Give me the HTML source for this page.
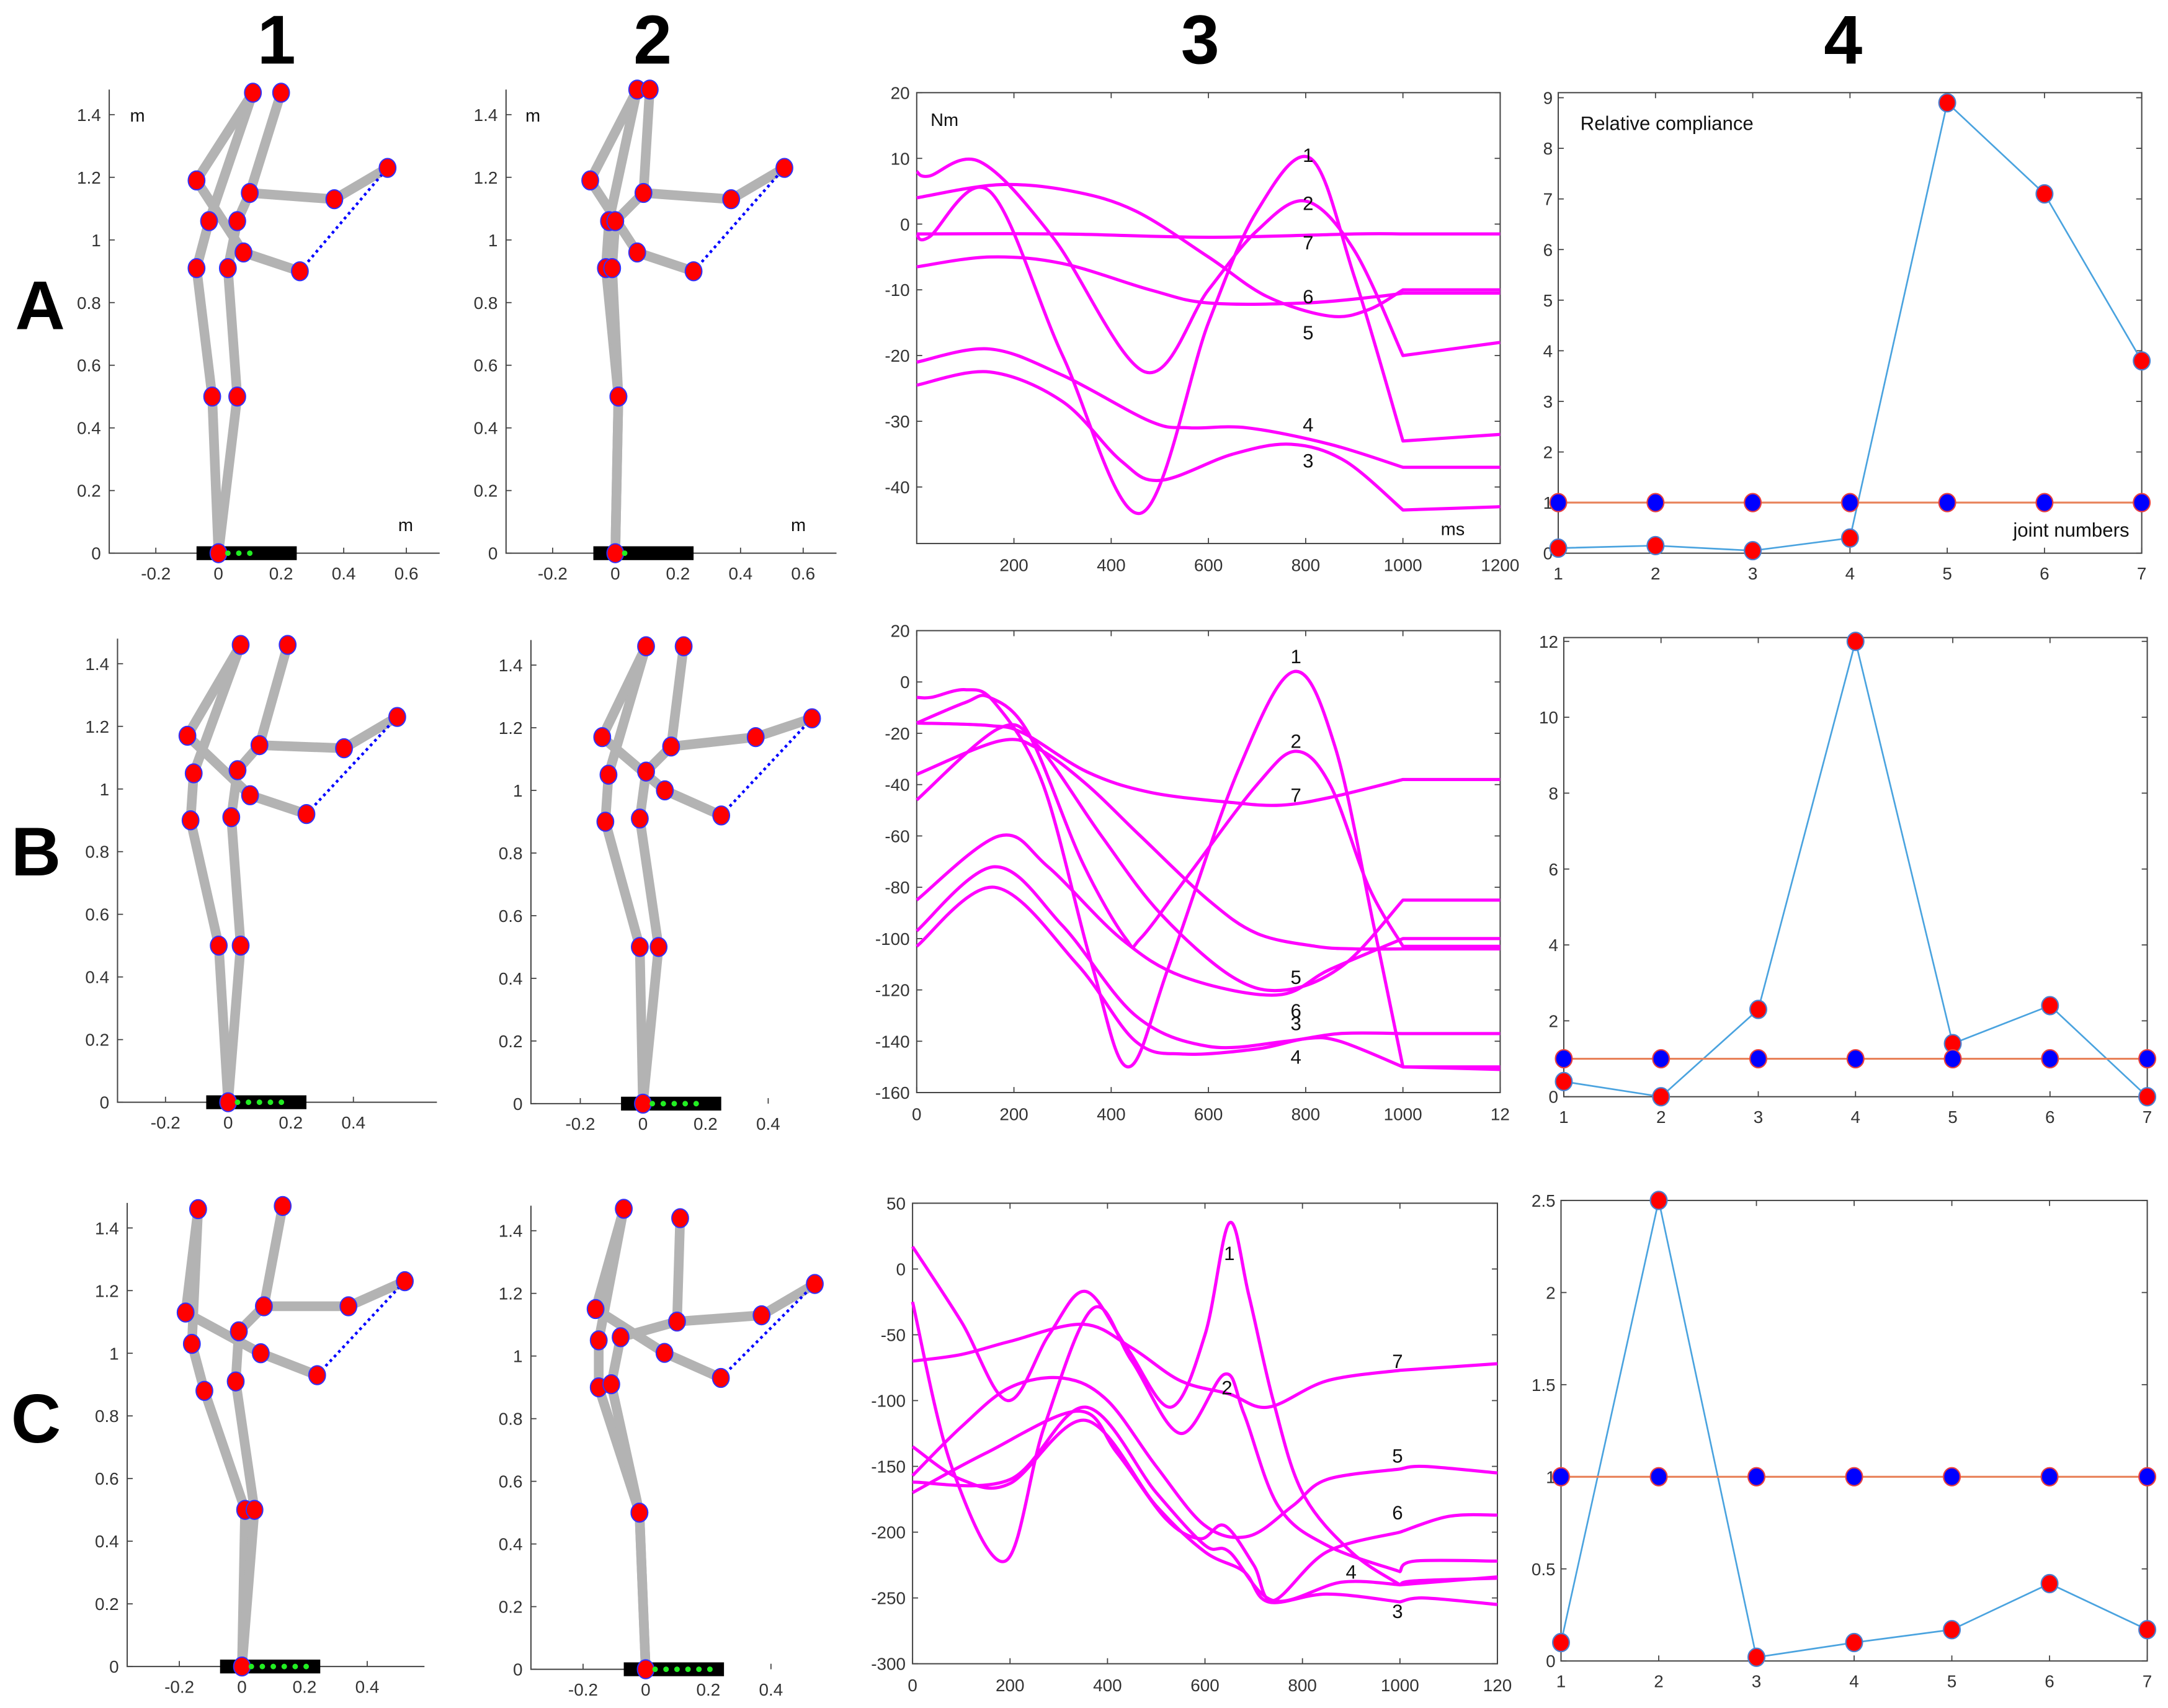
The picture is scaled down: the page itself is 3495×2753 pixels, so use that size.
<!DOCTYPE html>
<html><head><meta charset="utf-8">
<style>
html,body{margin:0;padding:0;background:#fff;}
svg{display:block;}
text{font-family:"Liberation Sans",Arial,sans-serif;}
</style></head>
<body>
<svg id="fig" width="3495" height="2753" viewBox="0 0 1568 1235" preserveAspectRatio="none" xmlns="http://www.w3.org/2000/svg">
<rect x="0" y="0" width="1568" height="1235" fill="#fff"/>
<g font-weight="bold" font-size="50" text-anchor="middle" fill="#000">
<text x="200" y="46">1</text>
<text x="472" y="46">2</text>
<text x="868" y="46">3</text>
<text x="1333" y="46">4</text>
<text x="29" y="238">A</text>
<text x="26" y="633">B</text>
<text x="26" y="1043">C</text>
</g>
</svg>
<script>
// ---------- Column 3 data (torques, ms vs Nm) ----------
const A3_s1=[[0,-1.5],[25,-2],[150,5],[300,-20],[460,-44],[600,-15],[700,2],[810,10],[900,-8],[1000,-33],[1200,-32]];
const A3_s2=[[0,8],[25,7.3],[130,9.5],[280,-2],[470,-22.5],[600,-10],[700,-1],[800,3.5],[900,-4],[1000,-20],[1200,-18]];
const A3_s3=[[0,-24.5],[150,-22.5],[300,-27],[420,-36],[500,-39],[650,-35],[770,-33.5],[880,-36],[1000,-43.5],[1200,-43]];
const A3_s4=[[0,-21],[150,-19],[300,-23],[480,-30],[560,-31],[680,-31],[850,-33.5],[1000,-37],[1200,-37]];
const A3_s5=[[0,4],[170,6],[320,5],[450,2],[600,-5],[720,-11],[850,-14],[930,-13],[1000,-10],[1200,-10]];
const A3_s6=[[0,-6.5],[150,-5],[300,-6],[480,-10],[600,-12],[800,-12],[950,-11],[1000,-10.5],[1200,-10.5]];
const A3_s7=[[0,-1.5],[300,-1.5],[600,-2],[900,-1.5],[1000,-1.5],[1200,-1.5]];
const A3_labels=[["1",805,10.5],["2",805,3.2],["7",805,-2.8],["6",805,-11],["5",805,-16.5],["4",805,-30.5],["3",805,-36]];
const A3_yticks=[20,10,0,-10,-20,-30,-40];
const A3_xticks=[200,400,600,800,1000,1200];
const A3_xlabels=["200","400","600","800","1000","1200"];

const B3_s1=[[0,-6],[30,-6],[100,-3],[160,-8],[260,-40],[360,-110],[435,-150],[520,-110],[660,-35],[775,4],[860,-25],[940,-95],[1000,-150],[1200,-150]];
const B3_s2=[[0,-16],[100,-8],[150,-6],[230,-20],[340,-70],[430,-100],[460,-100],[560,-75],[700,-40],[780,-27],[850,-40],[930,-80],[1000,-103],[1200,-103]];
const B3_s7=[[0,-16],[150,-17],[220,-20],[350,-35],[480,-43],[650,-47],[750,-48],[850,-45],[1000,-38],[1200,-38]];
const B3_s5=[[0,-36],[170,-23],[250,-26],[350,-40],[460,-60],[600,-85],[700,-98],[820,-103],[900,-104],[1000,-104],[1200,-104]];
const B3_s6=[[0,-46],[170,-18],[250,-25],[380,-60],[500,-90],[650,-115],[760,-120],[880,-110],[1000,-85],[1200,-85]];
const B3_s8=[[0,-85],[170,-60],[270,-72],[420,-100],[550,-115],[740,-122],[850,-112],[1000,-100],[1200,-100]];
const B3_s3=[[0,-97],[160,-72],[300,-95],[450,-130],[600,-142],[760,-140],[870,-137],[1000,-137],[1200,-137]];
const B3_s4=[[0,-103],[160,-80],[330,-110],[450,-140],[550,-145],[700,-143],[800,-139],[870,-140],[1000,-150],[1200,-151]];
const B3_labels=[["1",780,10],["2",780,-23],["7",780,-44],["5",780,-115],["6",780,-128],["3",780,-133],["4",780,-146]];
const B3_yticks=[20,0,-20,-40,-60,-80,-100,-120,-140,-160];
const B3_xticks=[0,200,400,600,800,1000,1200];
const B3_xlabels=["0","200","400","600","800","1000","12"];

const C3_s1=[[0,17],[100,-40],[195,-100],[280,-50],[355,-17],[440,-60],[530,-105],[600,-50],[650,35],[690,-20],[740,-100],[800,-170],[900,-215],[1000,-240],[1030,-237],[1200,-235]];
const C3_s2=[[0,-25],[80,-150],[190,-222],[270,-120],[370,-30],[450,-70],[550,-125],[640,-80],[680,-110],[750,-180],[850,-210],[1000,-230],[1030,-222],[1200,-222]];
const C3_s7=[[0,-70],[100,-65],[200,-55],[350,-42],[450,-60],[550,-85],[650,-95],[730,-105],[850,-85],[1000,-77],[1200,-72]];
const C3_s5=[[0,-157],[100,-120],[200,-90],[310,-83],[400,-100],[500,-150],[600,-195],[690,-203],[780,-180],[850,-160],[1000,-152],[1050,-150],[1200,-155]];
const C3_s6=[[0,-170],[150,-140],[340,-108],[420,-140],[520,-190],[590,-205],[640,-195],[700,-225],[740,-252],[850,-215],[1000,-200],[1100,-188],[1200,-187]];
const C3_s4=[[0,-162],[200,-160],[355,-105],[500,-170],[600,-210],[650,-215],[740,-252],[880,-238],[1000,-240],[1200,-234]];
const C3_s3=[[0,-135],[100,-160],[200,-163],[355,-115],[500,-180],[600,-215],[680,-230],[730,-253],[850,-247],[1000,-253],[1050,-250],[1200,-255]];
const C3_labels=[["1",650,12],["2",645,-90],["7",995,-70],["5",995,-142],["6",995,-185],["4",900,-230],["3",995,-260]];
const C3_yticks=[50,0,-50,-100,-150,-200,-250,-300];
const C3_xticks=[0,200,400,600,800,1000,1200];
const C3_xlabels=["0","200","400","600","800","1000","120"];

// ---------- Column 4 data (relative compliance) ----------
const joints=[1,2,3,4,5,6,7];
const A4_red=[0.1,0.15,0.05,0.3,8.9,7.1,3.8];
const B4_red=[0.4,0,2.3,12,1.4,2.4,0];
const C4_red=[0.1,2.5,0.02,0.1,0.17,0.42,0.17];
const ref_blue=[1,1,1,1,1,1,1];
const A4_yticks=[0,1,2,3,4,5,6,7,8,9];
const B4_yticks=[0,2,4,6,8,10,12];
const C4_yticks=[0,0.5,1,1.5,2,2.5];

// ---------- Column 1/2 data (stick figure joints, m) ----------
const A1_pts=[[0.11,1.47],[0.20,1.47],[-0.07,1.19],[0.10,1.15],[0.37,1.13],[0.54,1.23],[-0.03,1.06],[0.06,1.06],[0.08,0.96],[0.26,0.90],[-0.07,0.91],[0.03,0.91],[-0.02,0.50],[0.06,0.50],[0,0]];
const A2_pts=[[0.07,1.48],[0.11,1.48],[-0.08,1.19],[0.09,1.15],[0.37,1.13],[0.54,1.23],[-0.02,1.06],[0.00,1.06],[0.07,0.96],[0.25,0.90],[-0.03,0.91],[-0.01,0.91],[0.01,0.50],[0.01,0.50],[0,0]];
const B1_pts=[[0.04,1.46],[0.19,1.46],[-0.13,1.17],[0.10,1.14],[0.37,1.13],[0.54,1.23],[-0.11,1.05],[0.03,1.06],[0.07,0.98],[0.25,0.92],[-0.12,0.90],[0.01,0.91],[-0.03,0.50],[0.04,0.50],[0,0]];
const B2_pts=[[0.01,1.46],[0.13,1.46],[-0.13,1.17],[0.09,1.14],[0.36,1.17],[0.54,1.23],[-0.11,1.05],[0.01,1.06],[0.07,1.00],[0.25,0.92],[-0.12,0.90],[-0.01,0.91],[-0.01,0.50],[0.05,0.50],[0,0]];
const C1_pts=[[-0.14,1.46],[0.13,1.47],[-0.18,1.13],[0.07,1.15],[0.34,1.15],[0.52,1.23],[-0.16,1.03],[-0.01,1.07],[0.06,1.00],[0.24,0.93],[-0.12,0.88],[-0.02,0.91],[0.01,0.50],[0.04,0.50],[0,0]];
const C2_pts=[[-0.07,1.47],[0.11,1.44],[-0.16,1.15],[0.10,1.11],[0.37,1.13],[0.54,1.23],[-0.15,1.05],[-0.08,1.06],[0.06,1.01],[0.24,0.93],[-0.15,0.90],[-0.11,0.91],[-0.02,0.50],[-0.02,0.50],[0,0]];
const segs=[[14,12],[12,10],[10,6],[6,0],[0,2],[2,8],[8,9],[14,13],[13,11],[11,7],[7,3],[3,1],[3,4],[4,5]];
const xt_A=[-0.2,0,0.2,0.4,0.6];
const xt_BC=[-0.2,0,0.2,0.4];
const yt_stick=[0,0.2,0.4,0.6,0.8,1,1.2,1.4];

const NS="http://www.w3.org/2000/svg";
const svg=document.getElementById('fig');
function el(tag,attrs,parent){const e=document.createElementNS(NS,tag);for(const k in attrs)e.setAttribute(k,attrs[k]);(parent||svg).appendChild(e);return e;}
function txt(s,attrs,parent){const t=el('text',attrs,parent);t.textContent=s;return t;}
function fmt(v){return (v<0?'-':'')+String(Math.abs(v));}
function smoothSeg(P,start){let d=start?'M'+P[0][0].toFixed(2)+','+P[0][1].toFixed(2):'';for(let i=0;i<P.length-1;i++){const p0=P[i-1]||P[i],p1=P[i],p2=P[i+1],p3=P[i+2]||P[i+1];const c1=[p1[0]+(p2[0]-p0[0])/6,p1[1]+(p2[1]-p0[1])/6];const c2=[p2[0]-(p3[0]-p1[0])/6,p2[1]-(p3[1]-p1[1])/6];d+='C'+c1[0].toFixed(2)+','+c1[1].toFixed(2)+' '+c2[0].toFixed(2)+','+c2[1].toFixed(2)+' '+p2[0].toFixed(2)+','+p2[1].toFixed(2);}return d;}

// ---------- stick panels ----------
function stick(name,pts,cfg){
  const g=el('g',{});
  
  
  const sx=v=>cfg.x0+v*226.5, sy=v=>cfg.y0-v*226.5;
  const ax=el('path',{d:`M${cfg.left},${sy(1.48)} V${cfg.y0} H${cfg.right}`,fill:'none',stroke:'#444','stroke-width':0.9},g);
  
  
  cfg.xt.forEach(v=>{el('line',{x1:sx(v),x2:sx(v),y1:cfg.y0,y2:cfg.y0-4,stroke:'#444','stroke-width':0.8},g);
    const t=txt(fmt(v),{x:sx(v),y:cfg.y0+19,'font-size':12.5,'text-anchor':'middle',fill:'#333'},g);
    
    });
  yt_stick.forEach(v=>{el('line',{x1:cfg.left,x2:cfg.left+4,y1:sy(v),y2:sy(v),stroke:'#444','stroke-width':0.8},g);
    const t=txt(fmt(v),{x:cfg.left-6,y:sy(v)+4.5,'font-size':12.5,'text-anchor':'end',fill:'#333'},g);
    
    });
  const base=el('rect',{x:sx(-0.07),y:cfg.y0-5,width:sx(0.25)-sx(-0.07),height:10,fill:'#000'},g);
  
  
  segs.forEach(s=>{const a=pts[s[0]],b=pts[s[1]];const l=el('line',{x1:sx(a[0]),y1:sy(a[1]),x2:sx(b[0]),y2:sy(b[1]),stroke:'#b3b3b3','stroke-width':7,'stroke-linecap':'round'},g);
    
    });
  const dl=el('line',{x1:sx(pts[9][0]),y1:sy(pts[9][1]),x2:sx(pts[5][0]),y2:sy(pts[5][1]),stroke:'#0000ff','stroke-width':2,'stroke-dasharray':'2 2.5'},g);
  
  
  pts.forEach(p=>{const c=el('ellipse',{cx:sx(p[0]),cy:sy(p[1]),rx:6,ry:6.8,fill:'#ff0000',stroke:'#3030ff','stroke-width':0.9},g);
    
    });
  for(let i=0;i<cfg.green;i++){const c=el('circle',{cx:sx(0.03+i*0.035),cy:cfg.y0,r:2,fill:'#22ee22'},g);
    
    }
  (cfg.m||[]).forEach(m=>{const t=txt('m',{x:m[0],y:m[1],'font-size':13,fill:'#111'},g);
    
    });
}
stick('panel-a1',A1_pts,{x0:158,y0:400,left:79,right:318,xt:xt_A,green:3,m:[[94,88],[288,384]]});
stick('panel-a2',A2_pts,{x0:445,y0:400,left:366,right:605,xt:xt_A,green:1,m:[[380,88],[572,384]]});
stick('panel-b1',B1_pts,{x0:165,y0:797,left:85,right:316,xt:xt_BC,green:5});
stick('panel-b2',B2_pts,{x0:465,y0:798,left:384,right:520,xt:xt_BC,green:5});
stick('panel-c1',C1_pts,{x0:175,y0:1205,left:92,right:307,xt:xt_BC,green:6});
stick('panel-c2',C2_pts,{x0:467,y0:1207,left:384,right:521,xt:xt_BC,green:6});

// ---------- torque panels ----------
function curvePath(pts,X,Y){
  const hasKnot=pts.some(q=>q[0]===1000);
  if(!hasKnot) return smoothSeg(pts.map(q=>[X(q[0]),Y(q[1])]),true);
  const a=pts.filter(q=>q[0]<=1000).map(q=>[X(q[0]),Y(q[1])]);
  const b=pts.filter(q=>q[0]>=1000).map(q=>[X(q[0]),Y(q[1])]);
  let d=smoothSeg(a,true);
  if(b.length>1) d+=smoothSeg(b,false);
  return d;
}
function torque(name,box,ydom,series,labels,yticks,xticks,xlabels,extra){
  const g=el('g',{});
  
  
  const X=v=>box.l+(v-0)/(1200)*(box.r-box.l), Y=v=>box.t+(ydom[1]-v)/(ydom[1]-ydom[0])*(box.b-box.t);
  const r=el('rect',{x:box.l,y:box.t,width:box.r-box.l,height:box.b-box.t,fill:'none',stroke:'#444','stroke-width':0.9},g);
  
  
  yticks.forEach(v=>{el('line',{x1:box.l,x2:box.l+4,y1:Y(v),y2:Y(v),stroke:'#444','stroke-width':0.8},g);
    el('line',{x1:box.r,x2:box.r-4,y1:Y(v),y2:Y(v),stroke:'#444','stroke-width':0.8},g);
    const t=txt(String(v),{x:box.l-5,y:Y(v)+4.5,'font-size':12.5,'text-anchor':'end',fill:'#333'},g);
    
    });
  xticks.forEach((v,i)=>{el('line',{x1:X(v),x2:X(v),y1:box.b,y2:box.b-4,stroke:'#444','stroke-width':0.8},g);
    el('line',{x1:X(v),x2:X(v),y1:box.t,y2:box.t+4,stroke:'#444','stroke-width':0.8},g);
    const t=txt(xlabels[i],{x:X(v),y:box.b+20,'font-size':12.5,'text-anchor':'middle',fill:'#333'},g);
    
    });
  series.forEach(s=>{const p=el('path',{d:curvePath(s,X,Y),fill:'none',stroke:'#ff00ff','stroke-width':2.3,'stroke-linejoin':'round'},g);
    
    });
  labels.forEach(l=>{const t=txt(l[0],{x:X(l[1]),y:Y(l[2])+5,'font-size':14,'text-anchor':'middle',fill:'#111'},g);
    
    });
  (extra||[]).forEach(e=>{const t=txt(e[0],{x:e[1],y:e[2],'font-size':13,fill:'#111'},g);
    
    });
}
torque('panel-a3',{l:663,r:1085,t:67,b:393},[-48.6,20],[A3_s1,A3_s2,A3_s3,A3_s4,A3_s5,A3_s6,A3_s7],A3_labels,A3_yticks,A3_xticks,A3_xlabels,[['Nm',673,91],['ms',1042,387]]);
torque('panel-b3',{l:663,r:1085,t:456,b:790},[-160,20],[B3_s1,B3_s2,B3_s3,B3_s4,B3_s5,B3_s6,B3_s7,B3_s8],B3_labels,B3_yticks,B3_xticks,B3_xlabels);
torque('panel-c3',{l:660,r:1083,t:870,b:1203},[-300,50],[C3_s1,C3_s2,C3_s3,C3_s4,C3_s5,C3_s6,C3_s7],C3_labels,C3_yticks,C3_xticks,C3_xlabels);

// ---------- compliance panels ----------
function compliance(name,box,ymax,red,yticks,extra){
  const g=el('g',{});
  
  
  const X=v=>box.l+(v-1)/6*(box.r-box.l), Y=v=>box.b-v/ymax*(box.b-box.t);
  const r=el('rect',{x:box.l,y:box.t,width:box.r-box.l,height:box.b-box.t,fill:'none',stroke:'#444','stroke-width':0.9},g);
  
  
  yticks.forEach(v=>{el('line',{x1:box.l,x2:box.l+4,y1:Y(v),y2:Y(v),stroke:'#444','stroke-width':0.8},g);
    el('line',{x1:box.r,x2:box.r-4,y1:Y(v),y2:Y(v),stroke:'#444','stroke-width':0.8},g);
    const t=txt(String(v),{x:box.l-4,y:Y(v)+4.5,'font-size':12.5,'text-anchor':'end',fill:'#333'},g);
    
    });
  joints.forEach(v=>{el('line',{x1:X(v),x2:X(v),y1:box.b,y2:box.b-4,stroke:'#444','stroke-width':0.8},g);
    el('line',{x1:X(v),x2:X(v),y1:box.t,y2:box.t+4,stroke:'#444','stroke-width':0.8},g);
    const t=txt(String(v),{x:X(v),y:box.b+19,'font-size':12.5,'text-anchor':'middle',fill:'#333'},g);
    
    });
  const pl=el('polyline',{points:joints.map((j,i)=>X(j)+','+Y(red[i])).join(' '),fill:'none',stroke:'#4aa3df','stroke-width':1.2},g);
  
  
  const rl=el('polyline',{points:joints.map((j,i)=>X(j)+','+Y(ref_blue[i])).join(' '),fill:'none',stroke:'#e8825a','stroke-width':1.4},g);
  
  
  joints.forEach((j,i)=>{const c=el('ellipse',{cx:X(j),cy:Y(red[i]),rx:6,ry:6.5,fill:'#ff0000',stroke:'#4a7fd0','stroke-width':1},g);
    
    });
  joints.forEach((j,i)=>{const c=el('ellipse',{cx:X(j),cy:Y(ref_blue[i]),rx:6,ry:6.5,fill:'#0000ff',stroke:'#e84040','stroke-width':1},g);
    
    });
  (extra||[]).forEach(e=>{const t=txt(e[0],{x:e[1],y:e[2],'font-size':14,'text-anchor':e[3],fill:'#111'},g);
    
    });
}
compliance('panel-a4',{l:1127,r:1549,t:67,b:400},9.1,A4_red,A4_yticks,[['Relative compliance',1143,94,'start'],['joint numbers',1540,388,'end']]);
compliance('panel-b4',{l:1131,r:1553,t:461,b:793},12.1,B4_red,B4_yticks);
compliance('panel-c4',{l:1129,r:1553,t:868,b:1201},2.5,C4_red,C4_yticks);
</script>
</body></html>
